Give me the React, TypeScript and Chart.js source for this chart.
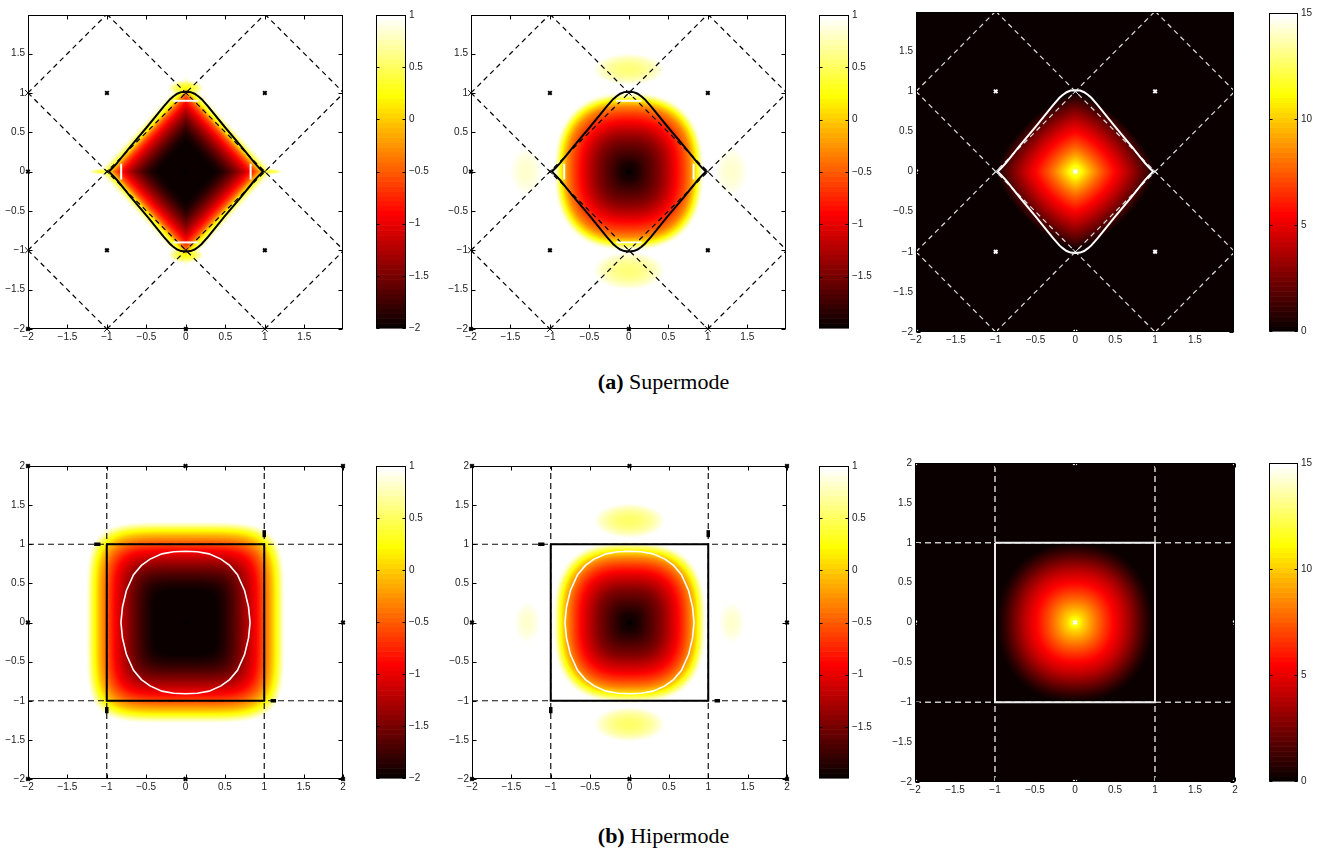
import React, { useEffect, useRef } from "react";
import { Chart, registerables } from "chart.js";

Chart.register(...registerables);

// ---------------- data ----------------
const TICKS_XY = [-2, -1.5, -1, -0.5, 0, 0.5, 1, 1.5, 2];
const LIMITS_SUPER = [-2, 1.99];
const LIMITS_HYPER = [-2, 2];

const CBAR_TICKS_FIELD = [-2, -1.5, -1, -0.5, 0, 0.5, 1];
const CBAR_TICKS_POWER = [0, 5, 10, 15];
const CLIM_FIELD = [-2, 1];
const CLIM_FIELD_B = [-1.99, 1];
const CLIM_POWER = [0, 15];

// field profiles: value against normalised distance from the centre
const A1_N = [0, 0.38, 0.48, 0.58, 0.68, 0.78, 0.86, 0.93, 0.98, 1.03, 1.08, 1.13, 1.18];
const A1_V = [-2, -2, -1.9, -1.7, -1.45, -1.15, -0.85, -0.55, -0.2, 0.2, 0.55, 0.85, 1];
const A2_N = [0, 0.1, 0.2, 0.3, 0.4, 0.5, 0.6, 0.7, 0.78, 0.85, 0.89, 0.92, 0.95];
const A2_V = [-1.99, -1.92, -1.75, -1.6, -1.42, -1.18, -0.9, -0.6, -0.3, 0.15, 0.55, 0.85, 1];
const A3_N = [0, 0.05, 0.1, 0.2, 0.3, 0.4, 0.5, 0.6, 0.7, 0.8, 0.9, 1.0];
const A3_V = [12.5, 11.8, 10.8, 9.2, 7.8, 6.6, 5.5, 4.5, 3.4, 2.3, 1.2, 0];
const B1_N = [0, 0.4, 0.5, 0.6, 0.7, 0.8, 0.9, 1.0, 1.1, 1.17, 1.22, 1.26];
const B1_V = [-2, -2, -1.88, -1.7, -1.47, -1.2, -0.9, -0.5, -0.05, 0.35, 0.75, 1];
const B2_N = [0, 0.1, 0.2, 0.3, 0.4, 0.5, 0.6, 0.7, 0.78, 0.85, 0.9, 0.94, 0.97];
const B2_V = [-1.99, -1.93, -1.78, -1.62, -1.45, -1.2, -0.95, -0.62, -0.3, 0.1, 0.5, 0.85, 1];
const B3_N = [0, 0.05, 0.1, 0.2, 0.3, 0.4, 0.5, 0.6, 0.7, 0.8, 0.9, 0.97];
const B3_V = [12, 11.2, 10.3, 8.9, 7.6, 6.4, 5.3, 4.3, 3.1, 1.8, 0.6, 0];

// side lobes: centre x, centre y, half width, half height, value at centre
const A1_LOBES = [
  [0, 1.06, 0.22, 0.1, 0.3], [0, -1.06, 0.22, 0.1, 0.3],
  [1.06, 0, 0.16, 0.035, 0.4], [-1.06, 0, 0.16, 0.035, 0.4],
];
const A2_LOBES = [
  [0, 1.3, 0.45, 0.2, 0.6], [0, -1.26, 0.45, 0.24, 0.6],
  [1.3, 0, 0.2, 0.3, 0.85], [-1.3, 0, 0.2, 0.3, 0.85],
];
const B2_LOBES = [
  [0, 1.3, 0.45, 0.22, 0.55], [0, -1.3, 0.45, 0.22, 0.55],
  [1.3, 0, 0.16, 0.26, 0.85], [-1.3, 0, 0.16, 0.26, 0.85],
];
const NO_LOBES: number[][] = [];

// supermode geometry
const SUPER_DASH = [
  [-1, 2, 2, -1], [-2, 1, 1, -2], [1, 2, 2, 1], [-2, -1, -1, -2],
  [-1, -2, 2, 1], [-2, -1, 1, 2], [1, -2, 2, -1], [-2, 1, -1, 2],
];
const SUPER_CONTOUR_X = [0, 0.06, 0.11, 0.16, 0.2, 0.28, 0.49, 0.7, 0.87, 0.93, 0.975];
const SUPER_CONTOUR_Y = [1.015, 1.01, 0.99, 0.955, 0.92, 0.83, 0.57, 0.32, 0.11, 0.045, 0];
const SUPER_WHITE = [
  [-0.16, 0.9, 0.16, 0.9], [-0.16, -0.9, 0.16, -0.9],
  [-0.82, -0.1, -0.82, 0.1], [0.82, -0.1, 0.82, 0.1],
];
const SUPER_MARK_BOLD = [
  [-1, 1], [1, 1], [-1, -1], [1, -1], [0, 0], [-2, 0], [2, 0], [0, -2], [0, 2],
  [-2, -2], [2, 2], [-2, 2], [2, -2],
];
const SUPER_MARK_THIN = [
  [0, 1], [0, -1], [1, 0], [-1, 0], [-1, 2], [1, 2], [-2, 1], [2, 1],
  [-2, -1], [2, -1], [-1, -2], [1, -2],
];

// hipermode geometry
const HYPER_DASH = [[-1, -2, -1, 2], [1, -2, 1, 2], [-2, -1, 2, -1], [-2, 1, 2, 1]];
const HYPER_SQUARE_X = [-1, 1, 1, -1, -1];
const HYPER_SQUARE_Y = [1, 1, -1, -1, 1];
const HYPER_SPURS = [
  [-1.16, 1, -1.08, 1], [1, 1.09, 1, 1.18], [1.08, -1, 1.15, -1], [-1, -1.08, -1, -1.16],
];
const HYPER_WHITE_X = [0, 0.15, 0.3, 0.45, 0.56, 0.66, 0.75, 0.8, 0.82];
const HYPER_WHITE_Y = [0.91, 0.905, 0.877, 0.81, 0.73, 0.61, 0.41, 0.2, 0];
const HYPER_MARK_BOLD = [[-2, 2], [0, 2], [2, 2], [-2, 0], [0, 0], [2, 0], [-2, -2], [0, -2], [2, -2]];

const CAPTION_A = ["(a)", "Supermode"];
const CAPTION_B = ["(b)", "Hipermode"];

// ---------------- layout / style ----------------
type Field = {
  n: number[]; v: number[]; lobes: number[][]; p: number; ax: number; ay: number;
  clim: number[]; mode: "min" | "max";
};
type PanelSpec = {
  key: string; plot: number[]; cbar: number[]; lim: number[]; kind: "super" | "hyper";
  dark: boolean; field: Field; cticks: number[];
};

const PANELS: PanelSpec[] = [
  { key: "a1", plot: [28, 14, 315, 315], cbar: [376, 14, 30, 315], lim: LIMITS_SUPER, kind: "super", dark: false,
    field: { n: A1_N, v: A1_V, lobes: A1_LOBES, p: 1, ax: 0.95, ay: 1.03, clim: CLIM_FIELD, mode: "min" }, cticks: CBAR_TICKS_FIELD },
  { key: "a2", plot: [471, 14, 315, 315], cbar: [819, 14, 30, 315], lim: LIMITS_SUPER, kind: "super", dark: false,
    field: { n: A2_N, v: A2_V, lobes: A2_LOBES, p: 2.5, ax: 1, ay: 1.06, clim: CLIM_FIELD_B, mode: "min" }, cticks: CBAR_TICKS_FIELD },
  { key: "a3", plot: [916, 11, 318, 321], cbar: [1269, 12, 29, 320], lim: LIMITS_SUPER, kind: "super", dark: true,
    field: { n: A3_N, v: A3_V, lobes: NO_LOBES, p: 1.4, ax: 1, ay: 0.98, clim: CLIM_POWER, mode: "max" }, cticks: CBAR_TICKS_POWER },
  { key: "b1", plot: [28, 465, 315, 314], cbar: [376, 465, 30, 314], lim: LIMITS_HYPER, kind: "hyper", dark: false,
    field: { n: B1_N, v: B1_V, lobes: NO_LOBES, p: 5, ax: 1, ay: 1.02, clim: CLIM_FIELD, mode: "min" }, cticks: CBAR_TICKS_FIELD },
  { key: "b2", plot: [472, 465, 315, 314], cbar: [819, 465, 30, 314], lim: LIMITS_HYPER, kind: "hyper", dark: false,
    field: { n: B2_N, v: B2_V, lobes: B2_LOBES, p: 2.8, ax: 1, ay: 1.06, clim: CLIM_FIELD_B, mode: "min" }, cticks: CBAR_TICKS_FIELD },
  { key: "b3", plot: [915, 462, 320, 320], cbar: [1269, 462, 29, 320], lim: LIMITS_HYPER, kind: "hyper", dark: true,
    field: { n: B3_N, v: B3_V, lobes: NO_LOBES, p: 2.2, ax: 1, ay: 1.03, clim: CLIM_POWER, mode: "max" }, cticks: CBAR_TICKS_POWER },
];

const FONT_FAMILY = '"Liberation Sans", Arial, Helvetica, sans-serif';
const TICK_FONT = { family: FONT_FAMILY, size: 10 };
const TICK_COLOR = "#222222";
const Y_AXIS_W = 32;
const X_AXIS_H = 18;
const PAD_T = 8;
const PAD_R = 8;
const CB_AXIS_W = 34;

// ---------------- helpers ----------------
function fmt(v: number): string {
  const r = Math.round(v * 100) / 100;
  return r < 0 ? "\u2212" + String(-r) : String(r);
}

function interp(ns: number[], vs: number[], n: number): number {
  if (n <= ns[0]) return vs[0];
  for (let i = 1; i < ns.length; i++) {
    if (n <= ns[i]) {
      const f = (n - ns[i - 1]) / (ns[i] - ns[i - 1]);
      return vs[i - 1] + f * (vs[i] - vs[i - 1]);
    }
  }
  return vs[vs.length - 1];
}

function hotColor(t: number): [number, number, number] {
  const c = Math.max(0, Math.min(1, t));
  const k = 1 + c * 63;
  const r = Math.min(1, k / 24);
  const g = Math.max(0, Math.min(1, (k - 24) / 24));
  const b = Math.max(0, Math.min(1, (k - 48) / 16));
  return [Math.round(r * 255), Math.round(g * 255), Math.round(b * 255)];
}

function fieldValue(f: Field, x: number, y: number): number {
  const n = Math.pow(Math.pow(Math.abs(x / f.ax), f.p) + Math.pow(Math.abs(y / f.ay), f.p), 1 / f.p);
  let v = interp(f.n, f.v, n);
  const bg = f.mode === "min" ? f.clim[1] : f.clim[0];
  for (const l of f.lobes) {
    const d2 = ((x - l[0]) / l[2]) ** 2 + ((y - l[1]) / l[3]) ** 2;
    if (d2 < 1) {
      const lv = l[4] + (bg - l[4]) * d2;
      v = f.mode === "min" ? Math.min(v, lv) : Math.max(v, lv);
    }
  }
  return v;
}

function heatmapPlugin(f: Field) {
  return {
    id: "heatmap",
    beforeDatasetsDraw(chart: any) {
      const { ctx, chartArea: a, scales } = chart;
      const xs = scales.x, ys = scales.y;
      const w = Math.round(a.right - a.left), h = Math.round(a.bottom - a.top);
      const off = document.createElement("canvas");
      off.width = w; off.height = h;
      const octx = off.getContext("2d")!;
      const img = octx.createImageData(w, h);
      const span = f.clim[1] - f.clim[0];
      for (let j = 0; j < h; j++) {
        const y = ys.getValueForPixel(a.top + j + 0.5);
        for (let i = 0; i < w; i++) {
          const x = xs.getValueForPixel(a.left + i + 0.5);
          const v = fieldValue(f, x, y);
          const c = hotColor((v - f.clim[0]) / span);
          const o = (j * w + i) * 4;
          img.data[o] = c[0]; img.data[o + 1] = c[1]; img.data[o + 2] = c[2]; img.data[o + 3] = 255;
        }
      }
      octx.putImageData(img, 0, 0);
      ctx.drawImage(off, a.left, a.top);
    },
  };
}

function framePlugin() {
  return {
    id: "frame",
    afterDatasetsDraw(chart: any) {
      const { ctx, chartArea: a, scales } = chart;
      ctx.save();
      ctx.strokeStyle = "#000";
      ctx.lineWidth = 1;
      const L = Math.round(a.left) + 0.5, R = Math.round(a.right) - 0.5;
      const T = Math.round(a.top) + 0.5, B = Math.round(a.bottom) - 0.5;
      ctx.beginPath();
      for (const t of scales.x.ticks) {
        const px = Math.round(scales.x.getPixelForValue(t.value)) + 0.5;
        ctx.moveTo(px, T); ctx.lineTo(px, T + 4);
        ctx.moveTo(px, B); ctx.lineTo(px, B - 4);
      }
      for (const t of scales.y.ticks) {
        const py = Math.round(scales.y.getPixelForValue(t.value)) + 0.5;
        ctx.moveTo(L, py); ctx.lineTo(L + 4, py);
        ctx.moveTo(R, py); ctx.lineTo(R - 4, py);
      }
      ctx.stroke();
      ctx.strokeRect(L, T, R - L, B - T);
      ctx.restore();
    },
  };
}

function colorbarPlugin() {
  return {
    id: "cbar",
    beforeDatasetsDraw(chart: any) {
      const { ctx, chartArea: a, scales } = chart;
      const ys = scales.y;
      const N = 64;
      const min = ys.min, max = ys.max;
      for (let k = 0; k < N; k++) {
        const v0 = min + ((max - min) * k) / N;
        const v1 = min + ((max - min) * (k + 1)) / N;
        const p0 = ys.getPixelForValue(v0), p1 = ys.getPixelForValue(v1);
        const c = hotColor(k / (N - 1));
        ctx.fillStyle = `rgb(${c[0]},${c[1]},${c[2]})`;
        ctx.fillRect(a.left, p1, a.right - a.left, p0 - p1 + 0.6);
      }
      ctx.save();
      ctx.strokeStyle = "#000";
      ctx.lineWidth = 1;
      const L = Math.round(a.left) + 0.5, R = Math.round(a.right) - 0.5;
      const T = Math.round(a.top) + 0.5, B = Math.round(a.bottom) - 0.5;
      ctx.beginPath();
      for (const t of ys.ticks) {
        const py = Math.round(ys.getPixelForValue(t.value)) + 0.5;
        ctx.moveTo(L, py); ctx.lineTo(L + 3, py);
        ctx.moveTo(R, py); ctx.lineTo(R - 3, py);
      }
      ctx.stroke();
      ctx.strokeRect(L, T, R - L, B - T);
      ctx.restore();
    },
  };
}

function closedPath(qx: number[], qy: number[]) {
  const n = qx.length;
  const pts: { x: number; y: number }[] = [];
  for (let i = 0; i < n; i++) pts.push({ x: qx[i], y: qy[i] });
  for (let i = n - 2; i >= 0; i--) pts.push({ x: qx[i], y: -qy[i] });
  for (let i = 1; i < n; i++) pts.push({ x: -qx[i], y: -qy[i] });
  for (let i = n - 2; i >= 0; i--) pts.push({ x: -qx[i], y: qy[i] });
  return pts;
}

function segment(s: number[], color: string, width: number, dash: number[]) {
  return {
    data: [{ x: s[0], y: s[1] }, { x: s[2], y: s[3] }],
    showLine: true, borderColor: color, borderWidth: width, borderDash: dash,
    pointRadius: 0, tension: 0,
  };
}

function markers(pts: number[][], color: string, radius: number, width: number) {
  return {
    data: pts.map((p) => ({ x: p[0], y: p[1] })),
    showLine: false, pointStyle: "crossRot", pointRadius: radius,
    borderColor: color, backgroundColor: color, pointBorderWidth: width, borderWidth: width,
    clip: false,
  };
}

function buildDatasets(p: PanelSpec) {
  const ink = p.dark ? "#ffffff" : "#000000";
  const [lo, hi] = p.lim;
  const inRange = (q: number[]) => q[0] >= lo && q[0] <= hi && q[1] >= lo && q[1] <= hi;
  const ds: any[] = [];
  if (p.kind === "super") {
    const dashInk = p.dark ? "#dcdcdc" : "#000000";
    ds.push(markers(SUPER_MARK_BOLD.filter(inRange), ink, 2.5, 2));
    ds.push(markers(SUPER_MARK_THIN.filter(inRange), p.dark ? "#e8e8e8" : "#111", 4, 1));
    ds.push({
      data: closedPath(SUPER_CONTOUR_X, SUPER_CONTOUR_Y), showLine: true,
      borderColor: ink, borderWidth: 2, pointRadius: 0, tension: 0,
    });
    if (!p.dark) SUPER_WHITE.forEach((s) => ds.push(segment(s, "#ffffff", 2, [])));
    SUPER_DASH.forEach((s) => ds.push(segment(s, dashInk, 1.2, [5, 4])));
  } else {
    const dashInk = p.dark ? "#c8c8c8" : "#111111";
    ds.push(markers(HYPER_MARK_BOLD.filter(inRange), ink, 2.5, 2));
    if (!p.dark) {
      HYPER_SPURS.forEach((s) => ds.push(segment(s, "#000", 3.5, [])));
    }
    ds.push({
      data: HYPER_SQUARE_X.map((x, i) => ({ x, y: HYPER_SQUARE_Y[i] })), showLine: true,
      borderColor: p.dark ? "#eeeeee" : "#000", borderWidth: 2, pointRadius: 0, tension: 0,
    });
    if (!p.dark) {
      ds.push({
        data: closedPath(HYPER_WHITE_X, HYPER_WHITE_Y), showLine: true,
        borderColor: "#ffffff", borderWidth: 1.6, pointRadius: 0, tension: 0,
      });
    }
    HYPER_DASH.forEach((s) => ds.push(segment(s, dashInk, p.dark ? 1.6 : 1.2, [6, 4])));
  }
  return ds;
}

function fixedTicks(values: number[]) {
  return (scale: any) => {
    scale.ticks = values.map((v) => ({ value: v }));
  };
}

function HeatPanel({ p }: { p: PanelSpec }) {
  const ref = useRef<HTMLCanvasElement>(null);
  const [L, T, W, H] = p.plot;
  const cw = W + Y_AXIS_W + PAD_R, ch = H + PAD_T + X_AXIS_H;
  useEffect(() => {
    const [lo, hi] = p.lim;
    const ticks = TICKS_XY.filter((v) => v >= lo && v <= hi);
    const chart = new Chart(ref.current!, {
      type: "scatter",
      data: { datasets: buildDatasets(p) as any },
      options: {
        responsive: false, animation: false, events: [],
        layout: { padding: { top: PAD_T, right: PAD_R, left: 0, bottom: 0 } },
        plugins: { legend: { display: false }, tooltip: { enabled: false } },
        scales: {
          x: {
            type: "linear", min: lo, max: hi,
            afterBuildTicks: fixedTicks(ticks),
            afterFit: (s: any) => { s.height = X_AXIS_H; },
            grid: { display: false, drawTicks: false }, border: { display: false },
            ticks: { font: TICK_FONT, color: TICK_COLOR, padding: 2, maxRotation: 0, autoSkip: false,
              callback: (v: any) => fmt(Number(v)) },
          },
          y: {
            type: "linear", min: lo, max: hi,
            afterBuildTicks: fixedTicks(ticks),
            afterFit: (s: any) => { s.width = Y_AXIS_W; },
            grid: { display: false, drawTicks: false }, border: { display: false },
            ticks: { font: TICK_FONT, color: TICK_COLOR, padding: 3, autoSkip: false,
              callback: (v: any) => fmt(Number(v)) },
          },
        },
      } as any,
      plugins: [heatmapPlugin(p.field), framePlugin()] as any,
    });
    return () => chart.destroy();
  }, []);
  return (
    <canvas ref={ref} width={cw} height={ch}
      style={{ position: "absolute", left: L - Y_AXIS_W, top: T - PAD_T, width: cw, height: ch }} />
  );
}

function ColorBar({ p }: { p: PanelSpec }) {
  const ref = useRef<HTMLCanvasElement>(null);
  const [L, T, W, H] = p.cbar;
  const cw = W + 1 + CB_AXIS_W, ch = H + 2 * PAD_T;
  useEffect(() => {
    const [cmin, cmax] = p.field.clim;
    const ticks = p.cticks.filter((v) => v >= cmin && v <= cmax);
    const chart = new Chart(ref.current!, {
      type: "scatter",
      data: { datasets: [] },
      options: {
        responsive: false, animation: false, events: [],
        layout: { padding: { top: PAD_T, bottom: PAD_T, left: 1, right: 0 } },
        plugins: { legend: { display: false }, tooltip: { enabled: false } },
        scales: {
          x: { type: "linear", display: false, min: 0, max: 1 },
          y: {
            type: "linear", position: "right", min: cmin, max: cmax,
            afterBuildTicks: fixedTicks(ticks),
            afterFit: (s: any) => { s.width = CB_AXIS_W; },
            grid: { display: false, drawTicks: false }, border: { display: false },
            ticks: { font: TICK_FONT, color: TICK_COLOR, padding: 3, autoSkip: false,
              callback: (v: any) => fmt(Number(v)) },
          },
        },
      } as any,
      plugins: [colorbarPlugin()] as any,
    });
    return () => chart.destroy();
  }, []);
  return (
    <canvas ref={ref} width={cw} height={ch}
      style={{ position: "absolute", left: L - 1, top: T - PAD_T, width: cw, height: ch }} />
  );
}

function Caption({ parts, top }: { parts: string[]; top: number }) {
  return (
    <div style={{
      position: "absolute", left: 0, width: 1327, top, textAlign: "center",
      fontFamily: '"Liberation Serif", "Times New Roman", serif', fontSize: 22, lineHeight: "24px", color: "#000",
    }}>
      <b>{parts[0]}</b> {parts[1]}
    </div>
  );
}

export default function App() {
  return (
    <div style={{ position: "absolute", left: 0, top: 0, width: 1327, height: 851, background: "#fff", overflow: "hidden" }}>
      {PANELS.map((p) => (
        <React.Fragment key={p.key}>
          <HeatPanel p={p} />
          <ColorBar p={p} />
        </React.Fragment>
      ))}
      <Caption parts={CAPTION_A} top={370} />
      <Caption parts={CAPTION_B} top={824} />
    </div>
  );
}
